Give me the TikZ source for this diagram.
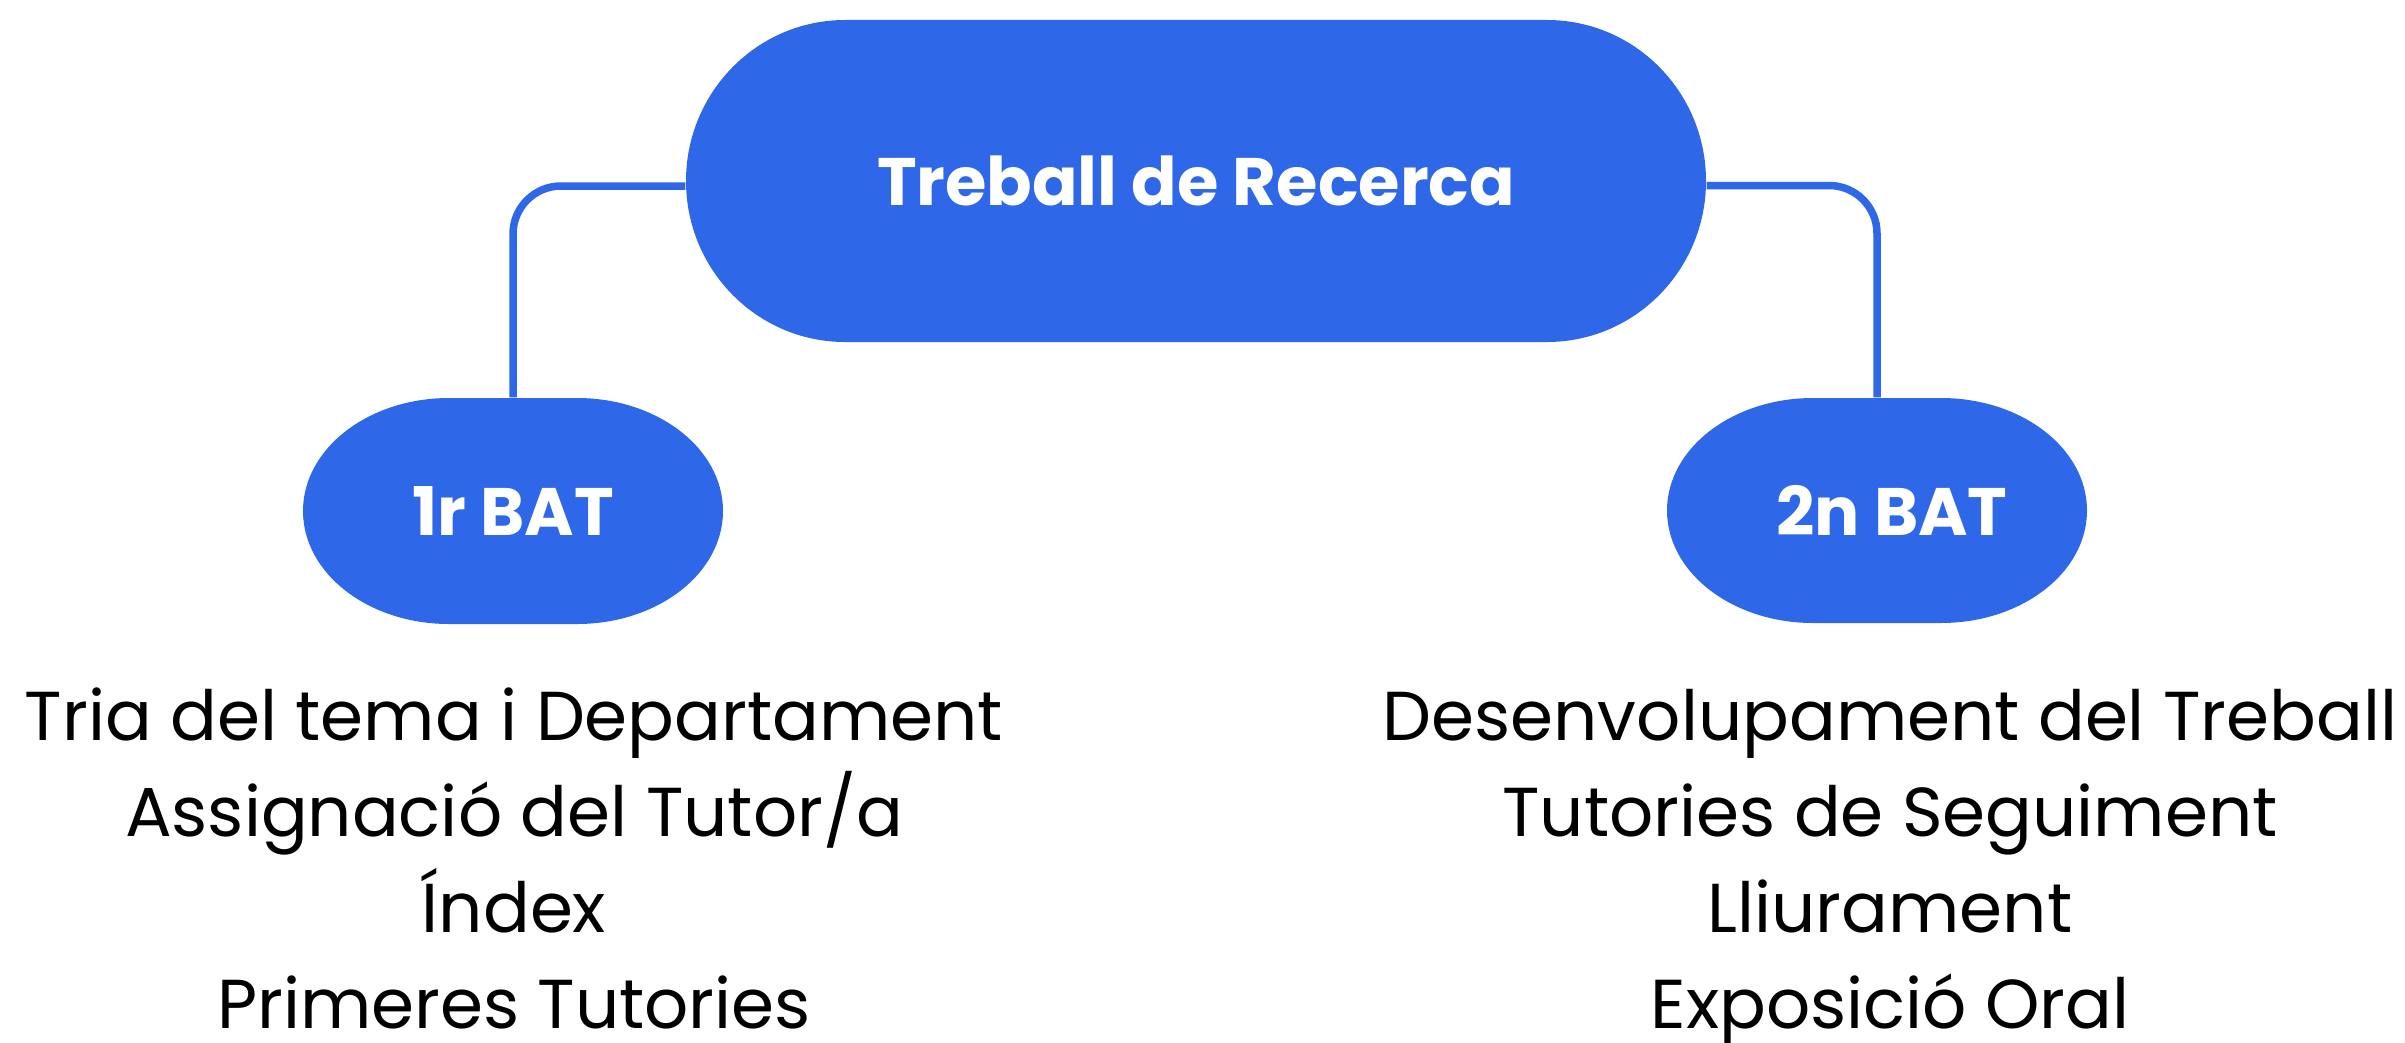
\documentclass[tikz,border=0pt]{standalone}
\usepackage{fontspec}
\setmainfont{Poppins}
\usetikzlibrary{positioning}
\definecolor{trblue}{HTML}{2E68E8}
\tikzset{
    pill label/.style={font=\fontsize{19.1}{24}\selectfont\bfseries, text=white, inner sep=0pt}, % text blanc dins les pastilles
    item/.style={font=\fontsize{19.7}{24}\selectfont, anchor=base}, % línies de les llistes
    link/.style={draw=trblue, line width=0.075cm, rounded corners=0.48cm} % connectors
}
% pastilla amb extrems el·líptics: centre x, centre y, semiamplada, rx, ry
\newcommand{\pill}[5]{%
    \fill[trblue] ({#1-#3+#4},{#2+#5}) arc[start angle=90, end angle=270, x radius=#4, y radius=#5]
        -- ({#1+#3-#4},{#2-#5}) arc[start angle=-90, end angle=90, x radius=#4, y radius=#5] -- cycle;}

\begin{document}
\begin{tikzpicture}
            \useasboundingbox (0,0) rectangle (24.05,-10.42);

            \pill{11.96}{-1.81}{5.10}{1.59}{1.61}
            \pill{5.13}{-5.11}{2.10}{1.46}{1.13}
            \pill{18.77}{-5.105}{2.10}{1.46}{1.125}

            \node[pill label, minimum width=10.2cm, minimum height=3.22cm] (recerca) at (11.96,-1.81) {Treball de Recerca};
            \node[pill label, minimum width=4.2cm, minimum height=2.26cm] (bat1) at (5.13,-5.11) {1r BAT};
            \node[pill label, minimum width=4.2cm, minimum height=2.25cm] (bat2) at (18.77,-5.105) {\hspace*{0.3cm}2n BAT};

            \draw[link] ([yshift=-0.05cm]recerca.west) -| (bat1.north);
            \draw[link] ([yshift=-0.045cm]recerca.east) -| (bat2.north);

          \foreach \itemText [count=\i] in {
              Tria del tema i Departament,
              Assignació del Tutor/a,
              Índex,
              Primeres Tutories
          } {
              \node[item] (tasca1r\i) at (5.14, {-7.40-0.96*(\i-1)}) {\itemText};
          }

          \foreach \itemText [count=\i] in {
              Desenvolupament del Treball,
              Tutories de Seguiment,
              Lliurament,
              Exposició Oral
          } {
              \node[item] (tasca2n\i) at (18.90, {-7.40-0.96*(\i-1)}) {\itemText};
          }

        \end{tikzpicture}
\end{document}
